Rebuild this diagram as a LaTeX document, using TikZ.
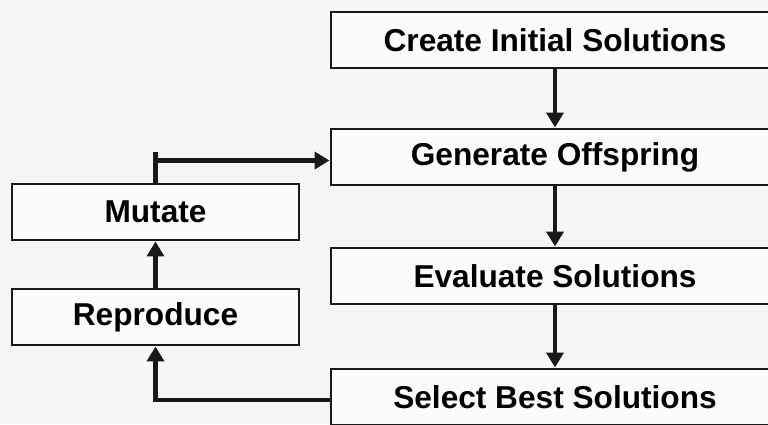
\documentclass[tikz,border=0pt]{standalone}
\usepackage{fontspec}
\setmainfont{Liberation Sans}
\usepackage{xcolor}
\usetikzlibrary{arrows.meta,positioning}
\definecolor{paper}{RGB}{246,246,246}
\begin{document}
\begin{tikzpicture}[font=\fontsize{18}{21}\selectfont\bfseries,
  box/.style={draw=black!90, line width=1.7pt, fill=white!60!paper,
              minimum height=11.2mm, inner sep=0pt},
  wide/.style={box, minimum width=89.6mm},
  narrow/.style={box, minimum width=57.4mm},
  arr/.style={-{Triangle[length=3mm,width=3.4mm]}, line width=2.8pt, black!90}]
% --- page ---
\fill[paper] (0,0) rectangle (15.36,8.48);
\useasboundingbox (0,0) rectangle (15.36,8.48);
\clip (0,0) rectangle (15.36,8.48);
% --- main column ---
\node[wide] (create) at (11.1,7.68) {Create Initial Solutions};
\node[wide] (gen)    at (11.1,5.34) {Generate Offspring};
\node[wide] (eval)   at (11.1,2.96) {Evaluate Solutions};
\node[wide] (select) at (11.1,0.54) {Select Best Solutions};
% --- loop column ---
\node[narrow] (mutate) at (3.11,4.24) {Mutate};
\node[narrow] (repro)  at (3.11,2.14) {Reproduce};
% --- arrows ---
\draw[arr] (create) -- (gen);
\draw[arr] (gen) -- (eval);
\draw[arr] (eval) -- (select);
\draw[arr] (select.west |- 0,0.48) -| (repro.south);
\draw[arr] (repro) -- (mutate);
\coordinate (fb) at ([yshift=4.4mm]mutate.north);
\draw[line width=2.8pt, black!90] (mutate.north) -- ++(0,6.2mm);
\draw[arr] (fb) -- (fb -| gen.west);
\end{tikzpicture}
\end{document}
